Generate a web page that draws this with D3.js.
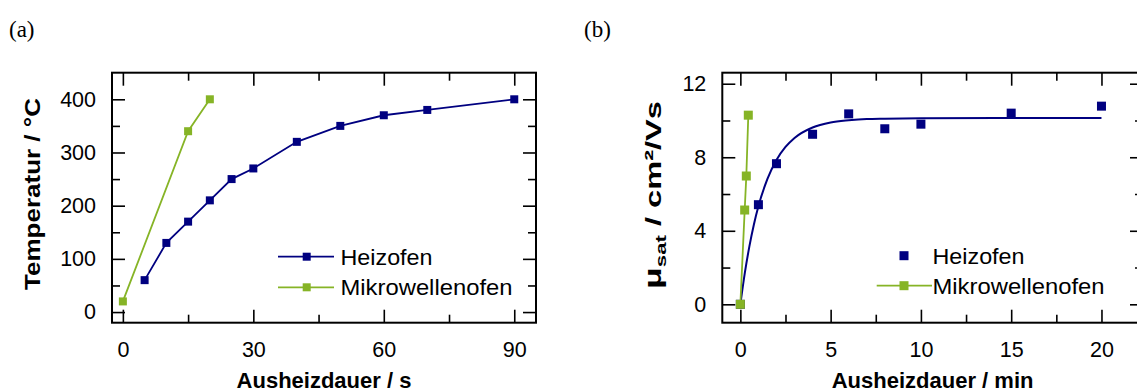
<!DOCTYPE html>
<html><head><meta charset="utf-8">
<script src="https://cdn.jsdelivr.net/npm/d3@7"></script>
<style>
html,body{margin:0;padding:0;background:#fff;}
svg{display:block;font-family:"Liberation Sans",Arial,Helvetica,sans-serif;}
</style></head>
<body>
<svg id="chart" width="1137" height="392"></svg>
<script>
// ---------- Data ----------
// Panel (a): temperature vs annealing time (s)
const heizA_t = [5, 10, 15, 20, 25, 30, 40, 50, 60, 70, 90];
const heizA_T = [60, 130, 170, 210, 250, 270, 320, 350, 370, 380, 400];
const mikroA_t = [0, 15, 20];
const mikroA_T = [20, 340, 400];

// Panel (b): saturation mobility vs annealing time (min)
const heizB_t = [0, 1, 2, 4, 6, 8, 10, 15, 20];
const heizB_mu = [0, 5.42, 7.65, 9.25, 10.36, 9.55, 9.8, 10.4, 10.78];
const fitB_t = [0, 0.25, 0.5, 0.75, 1, 1.5, 2, 2.5, 3, 4, 5, 6, 7, 8, 10, 15, 20];
const fitB_mu = [0, 1.72, 3.15, 4.34, 5.33, 6.82, 7.85, 8.56, 9.05, 9.62, 9.89, 10.01, 10.08, 10.1, 10.12, 10.13, 10.13];
const mikroB_t = [0, 0.24, 0.33, 0.44];
const mikroB_mu = [0, 5.13, 6.98, 10.29];

// Tick values / labels
const aXMajor = [0, 30, 60, 90], aXMinor = [15, 45, 75];
const aYMajor = [0, 100, 200, 300, 400], aYMinor = [50, 150, 250, 350];
const bXMajor = [0, 5, 10, 15, 20], bXMinor = [2.5, 7.5, 12.5, 17.5];
const bYMajor = [0, 4, 8, 12], bYMinor = [2, 6, 10];

const seriesNames = ["Heizofen", "Mikrowellenofen"];

// ---------- Style ----------
const BLUE = "#000080", GREEN = "#86b426";
const svg = d3.select("#chart");
svg.append("rect").attr("width",1137).attr("height",392).attr("fill","#fff");

function drawFrame(g, x, y, xMaj, xMin, yMaj, yMin){
  const [x0,x1] = x.range(), [y0,y1] = y.range();
  const MAJ = 13, MIN = 8, PADX = 19.3, PADY = 16, FS = 21.5;
  g.append("g").attr("transform",`translate(0,${y0})`)
    .call(d3.axisBottom(x).tickValues(xMaj).tickSize(-MAJ).tickPadding(PADX));
  g.append("g").attr("transform",`translate(0,${y0})`)
    .call(d3.axisBottom(x).tickValues(xMin).tickSize(-MIN).tickFormat(""));
  g.append("g").attr("transform",`translate(0,${y1})`)
    .call(d3.axisTop(x).tickValues(xMaj).tickSize(-MAJ).tickFormat(""));
  g.append("g").attr("transform",`translate(0,${y1})`)
    .call(d3.axisTop(x).tickValues(xMin).tickSize(-MIN).tickFormat(""));
  g.append("g").attr("transform",`translate(${x0},0)`)
    .call(d3.axisLeft(y).tickValues(yMaj).tickSize(-MAJ).tickPadding(PADY));
  g.append("g").attr("transform",`translate(${x0},0)`)
    .call(d3.axisLeft(y).tickValues(yMin).tickSize(-MIN).tickFormat(""));
  g.append("g").attr("transform",`translate(${x1},0)`)
    .call(d3.axisRight(y).tickValues(yMaj).tickSize(-MAJ).tickFormat(""));
  g.append("g").attr("transform",`translate(${x1},0)`)
    .call(d3.axisRight(y).tickValues(yMin).tickSize(-MIN).tickFormat(""));
  g.selectAll(".domain").remove();
  g.selectAll(".tick line").attr("stroke","#000").attr("stroke-width",1.6);
  g.selectAll(".tick text").attr("font-size",FS).attr("fill","#000")
    .attr("font-family",'"Liberation Sans",Arial,sans-serif');
  g.append("rect").attr("x",x0).attr("y",y1).attr("width",x1-x0).attr("height",y0-y1)
    .attr("fill","none").attr("stroke","#000").attr("stroke-width",2);
}

function squares(g, pts, x, y, color, size){
  g.selectAll(null).data(pts).enter().append("rect")
    .attr("x",d=>x(d[0])-size/2).attr("y",d=>y(d[1])-size/2)
    .attr("width",size).attr("height",size).attr("fill",color);
}

// stretch a rotated label so its length matches the target
function vLabel(g, cx, cy, target){
  const t = g.append("text").attr("text-anchor","middle")
    .attr("font-size",22).attr("font-weight","bold");
  return {t, fit(){
    const w = t.node().getComputedTextLength();
    const s = target / w;
    t.attr("transform",`translate(${cx},${cy}) rotate(-90) scale(${s},1)`);
  }};
}

// ---------- Panel (a) ----------
const ga = svg.append("g");
const xa = d3.scaleLinear().domain([-2.5, 95]).range([112, 536]);
const ya = d3.scaleLinear().domain([-20, 450]).range([322.7, 72.7]);
drawFrame(ga, xa, ya, aXMajor, aXMinor, aYMajor, aYMinor);

const lineA = d3.line().x(d=>xa(d[0])).y(d=>ya(d[1]));
const heizA = d3.zip(heizA_t, heizA_T), mikroA = d3.zip(mikroA_t, mikroA_T);
ga.append("path").attr("d",lineA(mikroA)).attr("fill","none").attr("stroke",GREEN).attr("stroke-width",1.8);
ga.append("path").attr("d",lineA(heizA)).attr("fill","none").attr("stroke",BLUE).attr("stroke-width",1.8);
squares(ga, mikroA, xa, ya, GREEN, 8);
squares(ga, heizA, xa, ya, BLUE, 8);

const legLen = [92, 172];
[[BLUE,256.7],[GREEN,287.3]].forEach(([c,yy],i)=>{
  ga.append("line").attr("x1",278).attr("x2",334).attr("y1",yy).attr("y2",yy).attr("stroke",c).attr("stroke-width",1.8);
  ga.append("rect").attr("x",306.7-4).attr("y",yy-4).attr("width",8).attr("height",8).attr("fill",c);
  ga.append("text").attr("x",340.5).attr("y",yy).attr("dy","0.36em").attr("font-size",22.5)
    .attr("textLength",legLen[i]).attr("lengthAdjust","spacingAndGlyphs").text(seriesNames[i]);
});

ga.append("text").attr("x",324).attr("y",387.5).attr("text-anchor","middle")
  .attr("font-size",22).attr("font-weight","bold").text("Ausheizdauer / s");
const la = vLabel(ga, 40, 194, 192);
la.t.text("Temperatur / °C");
la.fit();

// ---------- Panel (b) ----------
const gb = svg.append("g");
const xb = d3.scaleLinear().domain([-1, 22.3]).range([722.3, 1143]);
const yb = d3.scaleLinear().domain([-1, 12.6]).range([322.7, 72.7]);
drawFrame(gb, xb, yb, bXMajor, bXMinor, bYMajor, bYMinor);

const lineB = d3.line().x(d=>xb(d[0])).y(d=>yb(d[1]));
const fitB = d3.zip(fitB_t, fitB_mu), heizB = d3.zip(heizB_t, heizB_mu), mikroB = d3.zip(mikroB_t, mikroB_mu);
gb.append("path").attr("d",d3.line().x(d=>xb(d[0])).y(d=>yb(d[1])).curve(d3.curveMonotoneX)(fitB))
  .attr("fill","none").attr("stroke",BLUE).attr("stroke-width",2);
squares(gb, heizB, xb, yb, BLUE, 9);
gb.append("path").attr("d",lineB(mikroB)).attr("fill","none").attr("stroke",GREEN).attr("stroke-width",1.8);
squares(gb, mikroB, xb, yb, GREEN, 9);

gb.append("rect").attr("x",904-4.5).attr("y",255.7-4.5).attr("width",9).attr("height",9).attr("fill",BLUE);
gb.append("text").attr("x",932.5).attr("y",255.7).attr("dy","0.36em").attr("font-size",22.5)
  .attr("textLength",legLen[0]).attr("lengthAdjust","spacingAndGlyphs").text(seriesNames[0]);
gb.append("line").attr("x1",876.7).attr("x2",932).attr("y1",285.7).attr("y2",285.7).attr("stroke",GREEN).attr("stroke-width",1.8);
gb.append("rect").attr("x",904-4.5).attr("y",285.7-4.5).attr("width",9).attr("height",9).attr("fill",GREEN);
gb.append("text").attr("x",932.5).attr("y",285.7).attr("dy","0.36em").attr("font-size",22.5)
  .attr("textLength",legLen[1]).attr("lengthAdjust","spacingAndGlyphs").text(seriesNames[1]);

gb.append("text").attr("x",932.6).attr("y",387.5).attr("text-anchor","middle")
  .attr("font-size",22).attr("font-weight","bold").text("Ausheizdauer / min");
const lb = vLabel(gb, 661, 195, 188);
lb.t.append("tspan").attr("font-size",24).text("μ");
lb.t.append("tspan").attr("font-size",15).attr("dy",5).text("sat");
lb.t.append("tspan").attr("dy",-5).text(" / cm²/Vs");
lb.fit();

svg.append("text").attr("x",9).attr("y",37).attr("font-family",'"Liberation Serif","DejaVu Serif",serif').attr("font-size",23).text("(a)");
svg.append("text").attr("x",584).attr("y",37).attr("font-family",'"Liberation Serif","DejaVu Serif",serif').attr("font-size",23).text("(b)");
</script>
</body></html>
